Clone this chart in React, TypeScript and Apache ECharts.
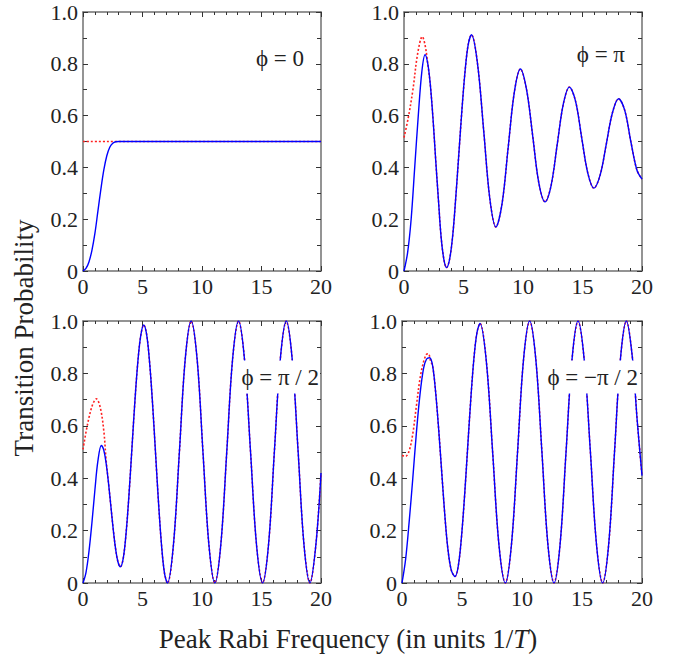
import React, { useEffect, useRef } from 'react';
import * as echarts from 'echarts';

// ---- tick values ----
const xMin = 0, xMax = 20, xStep = 5;
const yMin = 0, yMax = 1, yStep = 0.2;

// ---- panel labels & titles ----
const panelLabels = ['ϕ = 0', 'ϕ = π', 'ϕ = π / 2', 'ϕ = −π / 2'];
const yTitle = 'Transition Probability';
const xTitleMain = 'Peak Rabi Frequency (in units 1/';
const xTitleItalic = 'T';
const xTitleEnd = ')';

// ---- phi = 0 ----
const blueA: number[][] = [
  [0, 0], [0.25, 0.01], [0.5, 0.035], [0.75, 0.08], [1, 0.145], [1.25, 0.23], [1.5, 0.315],
  [1.75, 0.39], [2, 0.445], [2.25, 0.478], [2.5, 0.493], [2.75, 0.499], [3, 0.5],
  [5, 0.5], [10, 0.5], [15, 0.5], [20, 0.5],
];
const redA: number[][] = [[0, 0.5], [5, 0.5], [10, 0.5], [15, 0.5], [20, 0.5]];

// ---- phi = pi ----
const blueB: number[][] = [
  [0, 0], [0.3, 0.07], [0.6, 0.2], [0.9, 0.4], [1.2, 0.6], [1.5, 0.77], [1.77, 0.835],
  [2.0, 0.8], [2.22, 0.715], [2.45, 0.58], [2.67, 0.424], [2.9, 0.27], [3.12, 0.13],
  [3.35, 0.045], [3.57, 0.013], [3.83, 0.045], [4.1, 0.14], [4.36, 0.29], [4.62, 0.46],
  [4.88, 0.63], [5.15, 0.78], [5.4, 0.875], [5.67, 0.912], [6.18, 0.8], [6.7, 0.54],
  [7.21, 0.28], [7.72, 0.17], [8.24, 0.26], [8.75, 0.475], [9.27, 0.69], [9.78, 0.78],
  [10.3, 0.7], [10.82, 0.52], [11.33, 0.34], [11.85, 0.267], [12.36, 0.33], [12.88, 0.49],
  [13.39, 0.645], [13.9, 0.71], [14.42, 0.655], [14.93, 0.515], [15.45, 0.377], [15.96, 0.32],
  [16.48, 0.37], [17.0, 0.49], [17.51, 0.61], [18.03, 0.665], [18.55, 0.62], [19.06, 0.5],
  [19.57, 0.39], [20, 0.355],
];
const redBHead: number[][] = [
  [0, 0.515], [0.35, 0.59], [0.75, 0.7], [1.15, 0.84], [1.54, 0.905], [1.78, 0.87], [2.0, 0.8],
];

// ---- phi = pi/2 ----
const blueC: number[][] = [
  [0, 0], [0.25, 0.04], [0.5, 0.12], [0.75, 0.23], [1.0, 0.355], [1.25, 0.465], [1.54, 0.525],
  [1.74, 0.508], [1.94, 0.458], [2.14, 0.383], [2.34, 0.294], [2.54, 0.205], [2.74, 0.13],
  [2.94, 0.08], [3.14, 0.062], [3.385, 0.095], [3.63, 0.195], [3.875, 0.344], [4.12, 0.52],
  [4.365, 0.696], [4.61, 0.845], [4.855, 0.945], [5.1, 0.985], [5.35, 0.948], [5.6, 0.84],
  [5.85, 0.681], [6.1, 0.4925], [6.35, 0.304], [6.6, 0.144], [6.85, 0.037], [7.1, 0],
  [7.6, 0.146], [8.1, 0.5], [8.59, 0.854], [9.09, 1], [9.59, 0.854], [10.08, 0.5],
  [10.58, 0.146], [11.08, 0], [11.58, 0.146], [12.08, 0.5], [12.57, 0.854], [13.07, 1],
  [13.57, 0.854], [14.08, 0.5], [14.58, 0.146], [15.09, 0], [15.59, 0.146], [16.08, 0.5],
  [16.58, 0.854], [17.08, 1], [17.58, 0.854], [18.08, 0.5], [18.57, 0.146], [19.07, 0],
  [19.57, 0.146], [20, 0.42],
];
const redCHead: number[][] = [
  [0, 0.51], [0.4, 0.61], [0.8, 0.68], [1.12, 0.703], [1.45, 0.67], [1.75, 0.58], [1.94, 0.47],
];

// ---- phi = -pi/2 ----
const blueD: number[][] = [
  [0, 0], [0.3, 0.09], [0.6, 0.235], [0.9, 0.4], [1.2, 0.574], [1.5, 0.72], [1.8, 0.82],
  [2.05, 0.855], [2.3, 0.86], [2.55, 0.83], [2.8, 0.73], [3.05, 0.59], [3.3, 0.43],
  [3.55, 0.27], [3.8, 0.14], [4.1, 0.05], [4.42, 0.025], [4.68, 0.062], [4.94, 0.167],
  [5.2, 0.323], [5.46, 0.508], [5.72, 0.693], [5.98, 0.85], [6.24, 0.954], [6.5, 0.991],
  [7.03, 0.845], [7.56, 0.495], [8.08, 0.145], [8.61, 0], [9.12, 0.146], [9.63, 0.5],
  [10.13, 0.854], [10.64, 1], [11.15, 0.854], [11.66, 0.5], [12.16, 0.146], [12.67, 0],
  [13.17, 0.146], [13.67, 0.5], [14.17, 0.854], [14.67, 1], [15.18, 0.854], [15.7, 0.5],
  [16.21, 0.146], [16.72, 0], [17.22, 0.146], [17.71, 0.5], [18.2, 0.854], [18.7, 1],
  [19.2, 0.86], [19.6, 0.62], [20, 0.41],
];
const redDHead: number[][] = [
  [0, 0.487], [0.3, 0.484], [0.6, 0.505], [0.9, 0.57], [1.2, 0.676], [1.5, 0.78], [1.8, 0.845],
  [2.05, 0.873], [2.2, 0.875], [2.4, 0.845],
];

const withTail = (head: number[][], full: number[][]) => {
  const last = head[head.length - 1][0];
  return head.concat(full.filter((p) => p[0] > last));
};

const blueSets = [blueA, blueB, blueC, blueD];
const redSets = [redA, withTail(redBHead, blueB), withTail(redCHead, blueC), withTail(redDHead, blueD)];

export default function App() {
  const ref = useRef<HTMLDivElement>(null);
  useEffect(() => {
    if (!ref.current) return;
    const chart = echarts.init(ref.current, null, { renderer: 'svg' });
    const grids = [
      { left: 83, top: 12, width: 238, height: 259 },
      { left: 404, top: 12, width: 238, height: 259 },
      { left: 83, top: 321, width: 238, height: 262 },
      { left: 402, top: 321, width: 240, height: 262 },
    ];
    const frame = { show: true, onZero: false, lineStyle: { color: '#707070', width: 1.5 } };
    const tickStyle = { color: '#333', width: 1 };
    const labelFont = { fontFamily: 'Liberation Serif', fontSize: 22, color: '#222' };
    const xAxes: any[] = [];
    const yAxes: any[] = [];
    grids.forEach((_, i) => {
      [false, true].forEach((mirror) => {
        xAxes.push({
          gridIndex: i, type: 'value', min: xMin, max: xMax, interval: xStep,
          position: mirror ? 'top' : 'bottom',
          axisLine: frame,
          axisTick: { show: true, inside: true, length: 5, lineStyle: tickStyle },
          minorTick: { show: true, splitNumber: 5, length: 3, lineStyle: tickStyle },
          splitLine: { show: false },
          axisLabel: { show: !mirror, margin: 4, ...labelFont, formatter: (v: number) => String(v) },
        });
        yAxes.push({
          gridIndex: i, type: 'value', min: yMin, max: yMax, interval: yStep,
          position: mirror ? 'right' : 'left',
          axisLine: frame,
          axisTick: { show: true, inside: true, length: 5, lineStyle: tickStyle },
          minorTick: { show: true, splitNumber: 2, length: 4, lineStyle: tickStyle },
          splitLine: { show: false },
          axisLabel: {
            show: !mirror, margin: 5, ...labelFont,
            formatter: (v: number) => (v === 0 ? '0' : v.toFixed(1)),
          },
        });
      });
    });
    const series: any[] = [];
    grids.forEach((_, i) => {
      series.push({
        type: 'line', xAxisIndex: 2 * i, yAxisIndex: 2 * i, data: redSets[i],
        showSymbol: false, smooth: 0.35, z: 2,
        lineStyle: { color: '#ff2020', width: 1.6, type: [2, 2] },
      });
      series.push({
        type: 'line', xAxisIndex: 2 * i, yAxisIndex: 2 * i, data: blueSets[i],
        showSymbol: false, smooth: 0.35, z: 3,
        lineStyle: { color: '#0000ff', width: 1.4 },
      });
    });
    const labelPos = [
      { x: 306, y: 58, pad: [2, 2, 2, 2] },
      { x: 627, y: 54, pad: [2, 2, 2, 2] },
      { x: 320, y: 377, pad: [5, 1, 5, 3] },
      { x: 640, y: 377, pad: [5, 2, 5, 3] },
    ];
    const graphic: any[] = panelLabels.map((t, i) => ({
      type: 'text', x: labelPos[i].x, y: labelPos[i].y, z: 100,
      style: {
        text: t, align: 'right', verticalAlign: 'middle',
        fontFamily: 'Liberation Serif', fontSize: 23, fill: '#222',
        backgroundColor: '#fff', padding: labelPos[i].pad,
      },
    }));
    graphic.push({
      type: 'text', x: 24, y: 338, rotation: Math.PI / 2, z: 100,
      style: {
        text: yTitle, align: 'center', verticalAlign: 'middle',
        fontFamily: 'Liberation Serif', fontSize: 27, fill: '#222',
      },
    });
    graphic.push({
      type: 'text', x: 348, y: 639, z: 100,
      style: {
        text: `{a|${xTitleMain}}{b|${xTitleItalic}}{a|${xTitleEnd}}`,
        align: 'center', verticalAlign: 'middle',
        rich: {
          a: { fontFamily: 'Liberation Serif', fontSize: 27, fill: '#222', color: '#222' },
          b: { fontFamily: 'Liberation Serif', fontSize: 27, fontStyle: 'italic', fill: '#222', color: '#222' },
        },
      },
    });
    chart.setOption({
      animation: false,
      backgroundColor: '#fff',
      grid: grids,
      xAxis: xAxes,
      yAxis: yAxes,
      series,
      graphic,
    });
    return () => chart.dispose();
  }, []);
  return (
    <div
      ref={ref}
      style={{ position: 'fixed', left: 0, top: 0, width: 674, height: 662 }}
    />
  );
}
